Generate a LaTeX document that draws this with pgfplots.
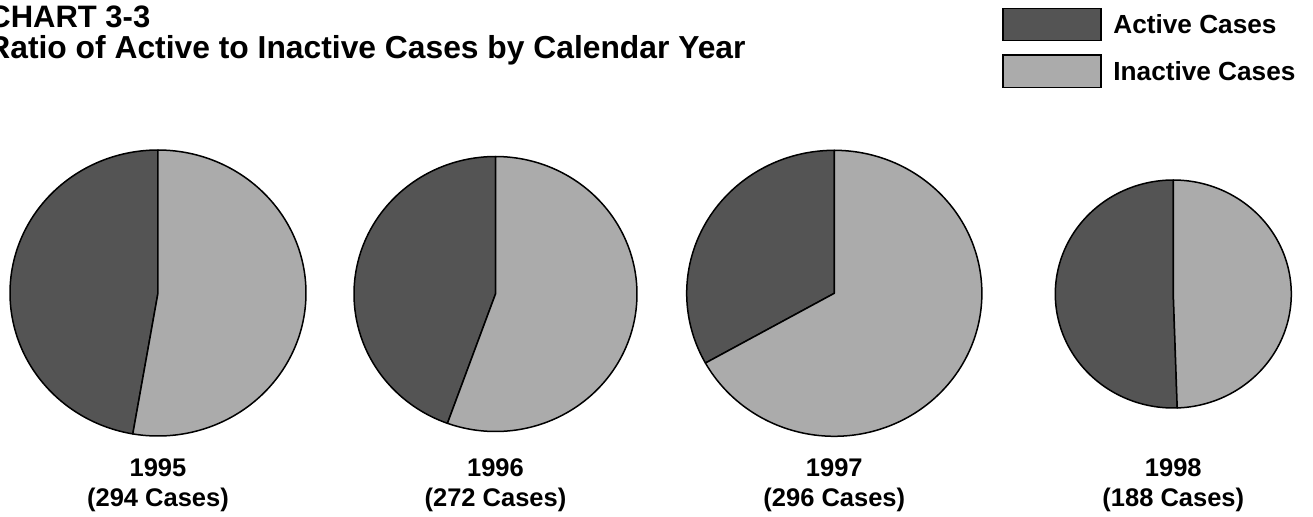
\documentclass[border=0pt]{standalone}
\usepackage{pgfplots}
\pgfplotsset{compat=1.18}
\usepackage{pgfplotstable}
\usepackage{fontspec}
\setmainfont{Liberation Sans}
\definecolor{activec}{RGB}{84,84,84}
\definecolor{inactivec}{RGB}{171,171,171}

% year, total cases, active cases; pie centre and radii in picture units
\pgfplotstableread{
year cases active cx cy rx ry
1995 294 139 158 223 148 143
1996 272 121 495.5 222 141.5 137.5
1997 296 98 834.3 222.7 147.6 143
1998 188 95 1173.3 222 118 114
}\piedata

\newcommand\drawpie[1]{%
  \pgfplotstablegetelem{#1}{year}\of\piedata\edef\pY{\pgfplotsretval}%
  \pgfplotstablegetelem{#1}{cases}\of\piedata\edef\pN{\pgfplotsretval}%
  \pgfplotstablegetelem{#1}{active}\of\piedata\edef\pA{\pgfplotsretval}%
  \pgfplotstablegetelem{#1}{cx}\of\piedata\edef\pCx{\pgfplotsretval}%
  \pgfplotstablegetelem{#1}{cy}\of\piedata\edef\pCy{\pgfplotsretval}%
  \pgfplotstablegetelem{#1}{rx}\of\piedata\edef\pRx{\pgfplotsretval}%
  \pgfplotstablegetelem{#1}{ry}\of\piedata\edef\pRy{\pgfplotsretval}%
  \pgfmathsetmacro\pFrac{\pA/\pN}%
  \pgfmathsetmacro\pEnd{90+360*\pFrac}%
  \edef\doit{%
    \noexpand\addplot[fill=activec, draw=black, line width=0.75pt, line join=round,
      domain=90:\pEnd, samples=150, variable=\noexpand\t]
      ({\pCx+\pRx*cos(\noexpand\t)},{\pCy+\pRy*sin(\noexpand\t)})
      -- (axis cs:\pCx,\pCy) -- cycle;
    \noexpand\addplot[fill=inactivec, draw=black, line width=0.75pt, line join=round,
      domain=\pEnd:450, samples=150, variable=\noexpand\t]
      ({\pCx+\pRx*cos(\noexpand\t)},{\pCy+\pRy*sin(\noexpand\t)})
      -- (axis cs:\pCx,\pCy) -- cycle;
    \noexpand\node[anchor=base, inner sep=0pt, font=\noexpand\labfont]
      at (axis cs:\pCx,39.3) {\pY};
    \noexpand\node[anchor=base, inner sep=0pt, font=\noexpand\labfont]
      at (axis cs:\pCx,9.3) {(\pN\space Cases)};
  }\doit
}
\newcommand\labfont{\fontsize{12.75pt}{15pt}\selectfont\bfseries}
\newcommand\titfont{\fontsize{15.5pt}{18pt}\selectfont\bfseries}
\newcommand\titfontb{\fontsize{15.9pt}{18pt}\selectfont\bfseries}
\newcommand\legfont{\fontsize{13.1pt}{15pt}\selectfont\bfseries}

\begin{document}
\begin{tikzpicture}
\begin{axis}[
  scale only axis, width=656.5pt, height=258pt,
  xmin=0, xmax=1313, ymin=0, ymax=516,
  hide axis, clip=false,
]
\drawpie{0}
\drawpie{1}
\drawpie{2}
\drawpie{3}
% title
\node[anchor=base west, inner sep=0pt, font=\titfont] at (axis cs:-12,489) {CHART 3-3};
\node[anchor=base west, inner sep=0pt, font=\titfontb] at (axis cs:-13,457.5) {Ratio of Active to Inactive Cases by Calendar Year};
% legend
\filldraw[fill=activec, draw=black, line width=0.75pt] (axis cs:1003,475.3) rectangle (axis cs:1101,507.7);
\filldraw[fill=inactivec, draw=black, line width=0.75pt] (axis cs:1003,428.7) rectangle (axis cs:1101,461);
\node[anchor=base west, inner sep=0pt, font=\legfont] at (axis cs:1113,482.7) {Active Cases};
\node[anchor=base west, inner sep=0pt, font=\legfont] at (axis cs:1113,436) {Inactive Cases};
\coordinate (bl) at (axis cs:0,0);
\coordinate (tr) at (axis cs:1313,516);
\end{axis}
\pgfresetboundingbox
\path[use as bounding box] (bl) rectangle (tr);
\end{tikzpicture}
\end{document}
